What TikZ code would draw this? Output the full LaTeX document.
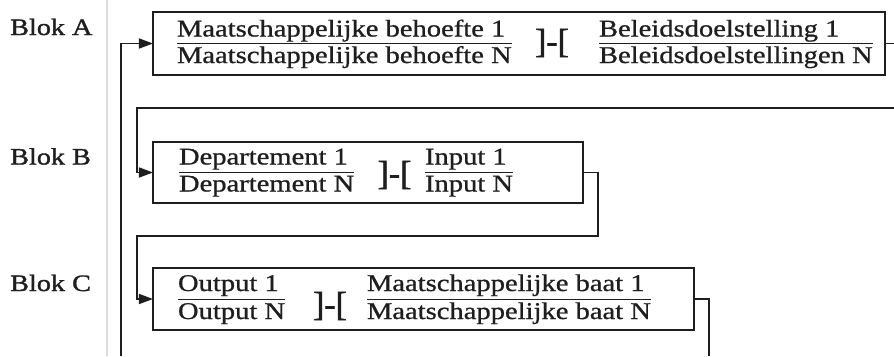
\documentclass[tikz,border=0pt]{standalone}
\usepackage{fontspec}
\setmainfont[FakeStretch=1.19,FakeBold=0.8]{Liberation Serif}
\newfontfamily\brfont[FakeBold=1.2]{Liberation Serif}
\newfontfamily\blokfont[FakeStretch=1.2,FakeBold=1.4]{Liberation Serif}
\usetikzlibrary{arrows.meta}
\definecolor{ink}{HTML}{1E1E1E}
\definecolor{gutter}{HTML}{DCDCDC}
\tikzset{
  box/.style={draw=ink, line width=1.5bp, inner sep=0pt, outer sep=0pt},
  conn/.style={draw=ink, line width=1.4bp},
  arr/.style={conn, -{Triangle[length=14bp,width=10bp]}},
  txt/.style={anchor=base west, inner sep=0pt, outer sep=0pt, text=ink, font=\fontsize{24bp}{24bp}\selectfont},
  brk/.style={inner sep=0pt, outer sep=0pt, text=ink, font=\brfont\fontsize{34bp}{34bp}\selectfont},
  frule/.style={draw=ink, line width=0.7bp},
  blok/.style={anchor=base west, inner sep=0pt, text=ink, font=\blokfont\fontsize{23.5bp}{23.5bp}\selectfont}
}
\begin{document}
\begin{tikzpicture}[x=1bp,y=-1bp]
\useasboundingbox (0,0) rectangle (894,356);
\fill[white] (0,0) rectangle (894,356);
\draw[gutter, line width=2bp] (106.5,0) -- (106.5,356);

% labels
\node[blok] (la) at (10,35) {Blok A};
\node[blok] (lb) at (10,164.5) {Blok B};
\node[blok] (lc) at (10,291) {Blok C};

% boxes
\node[box, minimum width=732bp, minimum height=63bp] (A) at (519,43.5) {};
\node[box, minimum width=430bp, minimum height=61bp] (B) at (368,172.5) {};
\node[box, minimum width=541bp, minimum height=62bp] (C) at (423.5,299) {};

% box A content
\node[txt] (a1) at (177,36.5) {Maatschappelijke behoefte 1};
\node[txt] (a2) at (177,63) {Maatschappelijke behoefte N};
\draw[frule] (a2.west |- A.center) -- (a2.east |- A.center);
\node[brk] (ab) at (552,43) {]-[};
\node[txt] (a3) at (599,36.5) {Beleidsdoelstelling 1};
\node[txt] (a4) at (599,63) {Beleidsdoelstellingen N};
\draw[frule] (a4.west |- A.center) -- (a4.east |- A.center);

% box B content
\node[txt] (b1) at (179,164.5) {Departement 1};
\node[txt] (b2) at (179,191.5) {Departement N};
\draw[frule] (b2.west |- B.center) -- (b2.east |- B.center);
\node[brk] (bb) at (394.5,175) {]-[};
\node[txt] (b3) at (425,164.5) {Input 1};
\node[txt] (b4) at (425,191.5) {Input N};
\draw[frule] (b4.west |- B.center) -- (b4.east |- B.center);

% box C content
\node[txt] (c1) at (178,291) {Output 1};
\node[txt] (c2) at (178,319) {Output N};
\draw[frule] (c2.west |- C.center) -- (c2.east |- C.center);
\node[brk] (cb) at (330,306) {]-[};
\node[txt] (c3) at (367,291) {Maatschappelijke baat 1};
\node[txt] (c4) at (367,319) {Maatschappelijke baat N};
\draw[frule] (c4.west |- C.center) -- (c4.east |- C.center);

% connectors
\coordinate (fbot) at (121,356);
\coordinate (aout) at (894,43.5);
\coordinate (ltop) at (894,108);
\coordinate (bk1) at (137,108);
\coordinate (bc1) at (598,236);
\coordinate (bc2) at (137,236);
\coordinate (cout) at (709,356);

\draw[arr] (fbot) |- (A.west);
\draw[conn] (A.east) -- (aout);
\draw[arr] (ltop) -- (bk1) |- (B.west);
\draw[arr] (B.east) -| (bc1) -- (bc2) |- (C.west);
\draw[conn] (C.east) -| (cout);
\end{tikzpicture}
\end{document}
